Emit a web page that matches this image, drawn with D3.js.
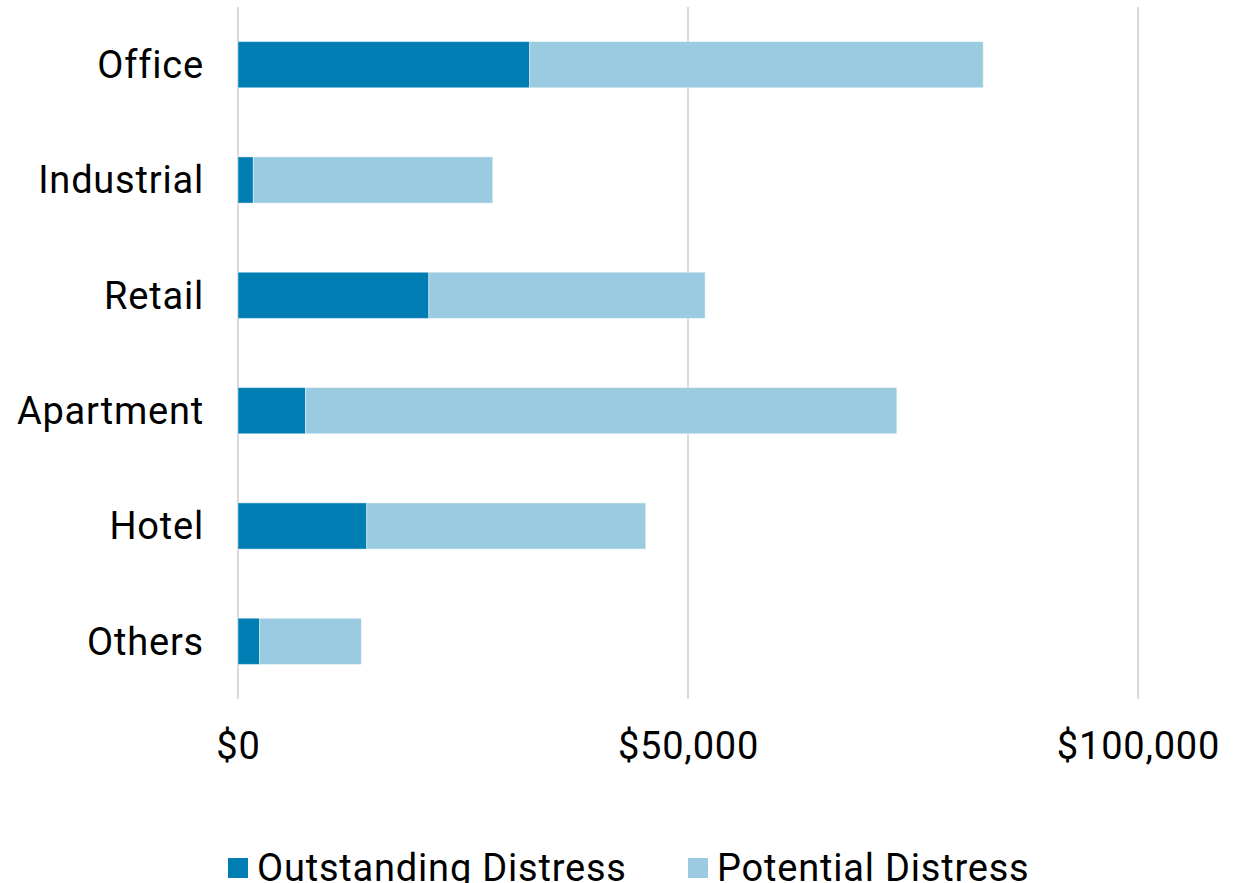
<!DOCTYPE html>
<html>
<head>
<meta charset="utf-8">
<script src="https://cdn.jsdelivr.net/npm/d3@7"></script>
<style>
  body { margin: 0; background: #fff; }
  text { font-family: Roboto, "Noto Sans", sans-serif; fill: #000; letter-spacing: 0.8px; }
</style>
</head>
<body>
<div id="chart-area"></div>
<script>
// chart data
const categories = ["Office", "Industrial", "Retail", "Apartment", "Hotel", "Others"];
const outstanding = [32400, 1700, 21200, 7500, 14300, 2400];
const potential = [50400, 26600, 30700, 65700, 31000, 11300];
const seriesNames = ["Outstanding Distress", "Potential Distress"];
const tickValues = [0, 50000, 100000];

const colors = ["#007db3", "#9acbe0"];

const width = 1237, height = 883;
const margin = { top: 7, right: 99, bottom: 184, left: 238 };

const svg = d3.select("#chart-area").append("svg")
    .attr("width", width)
    .attr("height", height);

const data = categories.map((c, i) => ({
    name: c,
    "Outstanding Distress": outstanding[i],
    "Potential Distress": potential[i]
}));

const stacked = d3.stack().keys(seriesNames)(data);

const x = d3.scaleLinear()
    .domain([0, 100000])
    .range([margin.left, width - margin.right]);

const y = d3.scaleBand()
    .domain(categories)
    .range([margin.top, height - margin.bottom])
    .paddingInner(0.6)
    .paddingOuter(0.3);

// gridlines
svg.append("g")
    .selectAll("line")
    .data(tickValues)
    .enter()
    .append("line")
    .attr("x1", d => x(d))
    .attr("x2", d => x(d))
    .attr("y1", margin.top)
    .attr("y2", height - margin.bottom)
    .attr("stroke", "#d9d9d9")
    .attr("stroke-width", 2);

// bars
svg.append("g")
    .selectAll("g")
    .data(stacked)
    .enter()
    .append("g")
    .attr("fill", (d, i) => colors[i])
    .selectAll("rect")
    .data(d => d)
    .enter()
    .append("rect")
    .attr("x", d => x(d[0]))
    .attr("y", d => y(d.data.name))
    .attr("width", d => x(d[1]) - x(d[0]))
    .attr("height", y.bandwidth())
    .attr("stroke", "#ffffff")
    .attr("stroke-opacity", 0.4)
    .attr("stroke-width", 1);

// category axis
const yAxis = svg.append("g")
    .attr("transform", `translate(${margin.left},0)`)
    .call(d3.axisLeft(y).tickSize(0).tickPadding(34));
yAxis.select(".domain").remove();
yAxis.selectAll("text")
    .style("font-size", "38px")
    .attr("dy", "0.35em");

// value axis
const fmt = d3.format("$,");
const xAxis = svg.append("g")
    .attr("transform", `translate(0,${height - margin.bottom})`)
    .call(d3.axisBottom(x).tickValues(tickValues).tickFormat(fmt).tickSize(0).tickPadding(33));
xAxis.select(".domain").remove();
xAxis.selectAll("text")
    .style("font-size", "38px");

// legend
const legendX = [228, 688];
const legend = svg.append("g")
    .selectAll("g")
    .data(seriesNames)
    .enter()
    .append("g")
    .attr("transform", (d, i) => `translate(${legendX[i]},858)`);

legend.append("rect")
    .attr("width", 20)
    .attr("height", 20)
    .attr("fill", (d, i) => colors[i]);

legend.append("text")
    .attr("x", 29)
    .attr("y", 10)
    .attr("dy", "0.35em")
    .style("font-size", "38px")
    .text(d => d);
</script>
</body>
</html>
